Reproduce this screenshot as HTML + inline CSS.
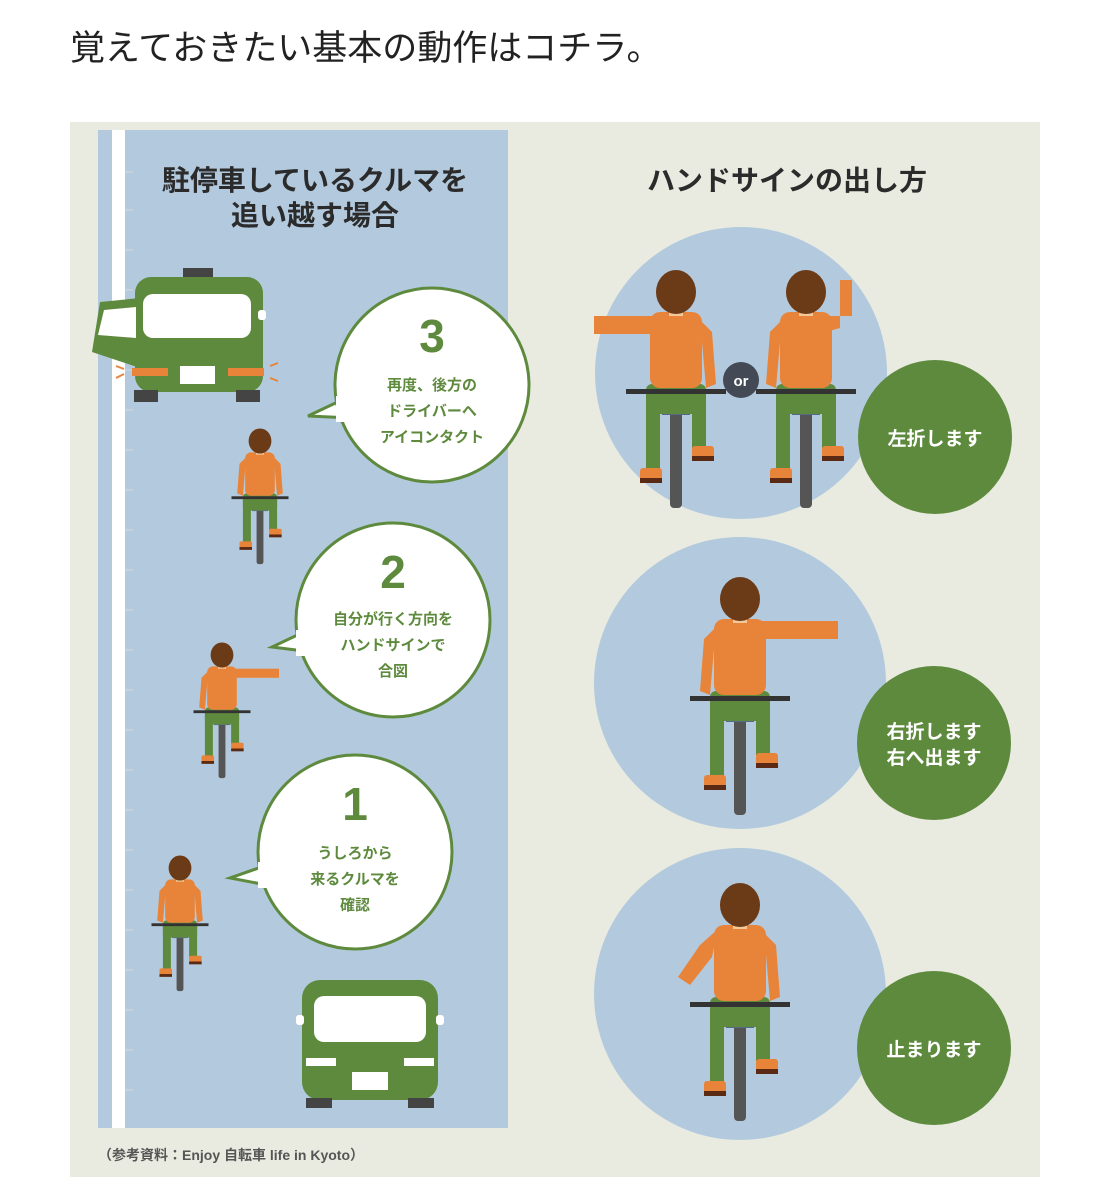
<!DOCTYPE html>
<html><head><meta charset="utf-8"><style>
body{margin:0;background:#fff;width:1111px;height:1200px;overflow:hidden;font-family:"Liberation Sans","Noto Sans CJK JP",sans-serif}
svg{position:absolute;left:0;top:0}
</style></head><body>
<svg width="1111" height="1200" viewBox="0 0 1111 1200" font-family="Liberation Sans, Noto Sans CJK JP, sans-serif">
<defs>
<g id="rb">
 <rect x="-6" y="118" width="12" height="98" rx="4" fill="#555"/>
 <rect x="-14" y="115" width="28" height="8" fill="#556a88"/>
 <rect x="-30" y="92" width="60" height="30" rx="6" fill="#5e8a3e"/>
 <rect x="-30" y="100" width="14" height="78" fill="#5e8a3e"/>
 <rect x="16" y="100" width="14" height="56" fill="#5e8a3e"/>
 <rect x="-36" y="176" width="22" height="12" rx="3" fill="#e8843a"/>
 <rect x="-36" y="186" width="22" height="5" fill="#5a2a14"/>
 <rect x="16" y="154" width="22" height="12" rx="3" fill="#e8843a"/>
 <rect x="16" y="164" width="22" height="5" fill="#5a2a14"/>
 <rect x="-26" y="20" width="52" height="76" rx="10" fill="#e8843a"/>
 <rect x="-7" y="16" width="14" height="8" fill="#f2c79a"/>
 <ellipse cx="0" cy="0" rx="20" ry="22" fill="#6b3a17"/>
</g>
<g id="armsdown">
 <rect x="-50" y="97" width="100" height="5" fill="#333"/>
 <path d="M-22 26 L-36 40 L-40 92 L-30 96 L-26 50 Z" fill="#e8843a"/>
 <path d="M22 26 L36 40 L40 92 L30 96 L26 50 Z" fill="#e8843a"/>
</g>
<g id="small">
 <use href="#rb"/><use href="#armsdown"/>
</g>
</defs>

<text x="70" y="60" font-size="35" fill="#222">覚えておきたい基本の動作はコチラ。</text>

<rect x="70" y="122" width="970" height="1055" fill="#e9ebe1"/>
<rect x="98" y="130" width="410" height="998" fill="#b3cade"/>
<rect x="112" y="130" width="13" height="998" fill="#fff"/>
<g stroke="#c9d4de" stroke-width="1.5">
<line x1="125" y1="172" x2="133" y2="172"/><line x1="125" y1="210" x2="133" y2="210"/><line x1="125" y1="250" x2="133" y2="250"/><line x1="125" y1="290" x2="133" y2="290"/><line x1="125" y1="330" x2="133" y2="330"/><line x1="125" y1="370" x2="133" y2="370"/><line x1="125" y1="410" x2="133" y2="410"/><line x1="125" y1="450" x2="133" y2="450"/><line x1="125" y1="490" x2="133" y2="490"/><line x1="125" y1="530" x2="133" y2="530"/><line x1="125" y1="570" x2="133" y2="570"/><line x1="125" y1="610" x2="133" y2="610"/><line x1="125" y1="650" x2="133" y2="650"/><line x1="125" y1="690" x2="133" y2="690"/><line x1="125" y1="730" x2="133" y2="730"/><line x1="125" y1="770" x2="133" y2="770"/><line x1="125" y1="810" x2="133" y2="810"/><line x1="125" y1="850" x2="133" y2="850"/><line x1="125" y1="890" x2="133" y2="890"/><line x1="125" y1="930" x2="133" y2="930"/><line x1="125" y1="970" x2="133" y2="970"/><line x1="125" y1="1010" x2="133" y2="1010"/><line x1="125" y1="1050" x2="133" y2="1050"/><line x1="125" y1="1090" x2="133" y2="1090"/>
</g>

<g font-weight="bold" fill="#2b2b2b" font-size="28" text-anchor="middle">
<text x="315" y="190">駐停車しているクルマを</text>
<text x="315" y="225">追い越す場合</text>
<text x="787" y="190">ハンドサインの出し方</text>
</g>

<!-- top car -->
<rect x="183" y="268" width="30" height="12" fill="#444"/>
<rect x="135" y="277" width="128" height="115" rx="16" fill="#5e8a3e"/>
<rect x="258" y="310" width="8" height="10" rx="3" fill="#fff"/>
<rect x="143" y="294" width="108" height="44" rx="10" fill="#fff"/>
<path d="M100 302 L140 298 L140 368 L92 352 Z" fill="#5e8a3e"/>
<path d="M104 310 L136 307 L136 338 L98 335 Z" fill="#fff"/>
<rect x="132" y="368" width="36" height="8" fill="#e8843a"/>
<rect x="228" y="368" width="36" height="8" fill="#e8843a"/>
<rect x="180" y="366" width="35" height="18" fill="#fff"/>
<rect x="134" y="390" width="24" height="12" fill="#444"/>
<rect x="236" y="390" width="24" height="12" fill="#444"/>
<g stroke="#e8843a" stroke-width="2"><line x1="116" y1="366" x2="124" y2="369"/><line x1="116" y1="378" x2="124" y2="374"/><line x1="270" y1="366" x2="278" y2="363"/><line x1="270" y1="378" x2="278" y2="381"/></g>

<!-- bottom car -->
<rect x="302" y="980" width="136" height="120" rx="18" fill="#5e8a3e"/>
<rect x="296" y="1015" width="8" height="10" rx="3" fill="#fff"/>
<rect x="436" y="1015" width="8" height="10" rx="3" fill="#fff"/>
<rect x="314" y="996" width="112" height="46" rx="10" fill="#fff"/>
<rect x="306" y="1058" width="30" height="8" fill="#fff"/>
<rect x="404" y="1058" width="30" height="8" fill="#fff"/>
<rect x="352" y="1072" width="36" height="18" fill="#fff"/>
<rect x="306" y="1098" width="26" height="10" fill="#444"/>
<rect x="408" y="1098" width="26" height="10" fill="#444"/>

<!-- bubbles -->
<g fill="#fff" stroke="#5e8a3e" stroke-width="3">
<path d="M346 398 L308 416 L352 418" />
<circle cx="432" cy="385" r="97"/>
<path d="M308 630 L272 647 L312 652"/>
<circle cx="393" cy="620" r="97"/>
<path d="M270 864 L230 878 L272 886"/>
<circle cx="355" cy="852" r="97"/>
</g>
<g fill="#fff"><rect x="336" y="396" width="20" height="26"/><rect x="296" y="630" width="18" height="26"/><rect x="258" y="862" width="18" height="26"/></g>
<g fill="#5e8a3e" font-weight="bold" text-anchor="middle">
<text x="432" y="352" font-size="46">3</text>
<text x="432" y="390" font-size="15">再度、後方の</text>
<text x="432" y="416" font-size="15">ドライバーへ</text>
<text x="432" y="442" font-size="15">アイコンタクト</text>
<text x="393" y="588" font-size="46">2</text>
<text x="393" y="624" font-size="15">自分が行く方向を</text>
<text x="393" y="650" font-size="15">ハンドサインで</text>
<text x="393" y="676" font-size="15">合図</text>
<text x="355" y="820" font-size="46">1</text>
<text x="355" y="858" font-size="15">うしろから</text>
<text x="355" y="884" font-size="15">来るクルマを</text>
<text x="355" y="910" font-size="15">確認</text>
</g>

<!-- small riders -->
<g transform="translate(260,441) scale(0.57)"><use href="#small"/></g>
<g transform="translate(222,655) scale(0.57)"><use href="#rb"/><rect x="-50" y="97" width="100" height="5" fill="#333"/><path d="M-22 26 L-36 40 L-40 92 L-30 96 L-26 50 Z" fill="#e8843a"/><rect x="20" y="24" width="80" height="16" fill="#e8843a"/></g>
<g transform="translate(180,868) scale(0.57)"><use href="#small"/></g>

<!-- right side circles -->
<circle cx="741" cy="373" r="146" fill="#b3cade"/>
<circle cx="740" cy="683" r="146" fill="#b3cade"/>
<circle cx="740" cy="994" r="146" fill="#b3cade"/>

<!-- rider A left arm out -->
<g transform="translate(676,292)">
<use href="#rb"/><rect x="-50" y="97" width="100" height="5" fill="#333"/>
<path d="M22 26 L36 40 L40 92 L30 96 L26 50 Z" fill="#e8843a"/>
<rect x="-82" y="24" width="62" height="18" fill="#e8843a"/>
</g>
<!-- rider B arm up -->
<g transform="translate(806,292)">
<use href="#rb"/><rect x="-50" y="97" width="100" height="5" fill="#333"/>
<path d="M-22 26 L-36 40 L-40 92 L-30 96 L-26 50 Z" fill="#e8843a"/>
<path d="M20 24 L46 24 L46 -12 L34 -12 L34 36 L20 40 Z" fill="#e8843a"/>
</g>
<circle cx="741" cy="380" r="18" fill="#444a55"/>
<text x="741" y="386" font-size="15" font-weight="bold" fill="#fff" text-anchor="middle">or</text>

<!-- rider C right arm out -->
<g transform="translate(740,599)">
<use href="#rb"/><rect x="-50" y="97" width="100" height="5" fill="#333"/>
<path d="M-22 26 L-36 40 L-40 92 L-30 96 L-26 50 Z" fill="#e8843a"/>
<rect x="20" y="22" width="78" height="18" fill="#e8843a"/>
</g>
<!-- rider D arm down -->
<g transform="translate(740,905)">
<use href="#rb"/><rect x="-50" y="97" width="100" height="5" fill="#333"/>
<path d="M22 26 L36 40 L40 92 L30 96 L26 50 Z" fill="#e8843a"/>
<path d="M-22 24 L-40 40 L-62 72 L-50 80 L-28 52 Z" fill="#e8843a"/>
</g>

<g fill="#5e8a3e">
<circle cx="935" cy="437" r="77"/>
<circle cx="934" cy="743" r="77"/>
<circle cx="934" cy="1048" r="77"/>
</g>
<g fill="#fff" font-size="19" font-weight="bold" text-anchor="middle">
<text x="935" y="445">左折します</text>
<text x="934" y="738">右折します</text>
<text x="934" y="764">右へ出ます</text>
<text x="934" y="1056">止まります</text>
</g>

<text x="98" y="1160" font-size="14" fill="#555" font-weight="bold">（参考資料：Enjoy 自転車 life in Kyoto）</text>
</svg>
</body></html>
